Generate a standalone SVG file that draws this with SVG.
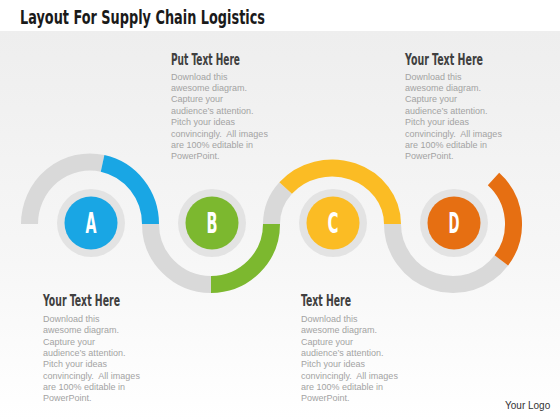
<svg xmlns="http://www.w3.org/2000/svg" width="560" height="420" viewBox="0 0 560 420">
  <defs>
    <linearGradient id="bg" x1="0" y1="0" x2="0" y2="1">
      <stop offset="0" stop-color="#eeeeee"/>
      <stop offset="0.6" stop-color="#f7f7f7"/>
      <stop offset="1" stop-color="#ffffff"/>
    </linearGradient>
    <style>
      .title{font-family:"Liberation Sans Narrow","DejaVu Sans Condensed","Liberation Sans",sans-serif;font-weight:bold;font-size:20px;fill:#1a1a1a}
      .head{font-family:"Liberation Sans Narrow","DejaVu Sans Condensed","Liberation Sans",sans-serif;font-weight:bold;font-size:15px;fill:#404040}
      .body{font-family:"Liberation Sans",Arial,sans-serif;font-size:9px;fill:#a3a3a3}
      .letter{font-family:"Liberation Sans Narrow","DejaVu Sans Condensed","Liberation Sans",sans-serif;font-weight:bold;font-size:28px;fill:#ffffff;text-anchor:middle}
      .ring{fill:#e3e3e3}
      .arc{fill:none;stroke-width:17;stroke-linecap:butt}
      .gray{stroke:#d9d9d9}
      .logo{font-family:"Liberation Sans",Arial,sans-serif;font-size:10px;fill:#333333}
    </style>
  </defs>
  <rect x="0" y="0" width="560" height="420" fill="#ffffff"/>
  <rect x="0" y="31" width="560" height="389" fill="url(#bg)"/>
  <text class="title" x="20" y="24" textLength="245" lengthAdjust="spacingAndGlyphs">Layout For Supply Chain Logistics</text>

  <g id="connectors">
    <path class="arc gray" d="M29.5,224 A60.5,62 0 0 1 102.58,163.35"/>
    <path class="arc" stroke="#19a6e4" d="M102.58,163.35 A60.5,62 0 0 1 150.5,224"/>
    <path class="arc gray" d="M150.5,224 A60.5,60.5 0 0 0 211,284.5"/>
    <path class="arc" stroke="#7cb82f" d="M211,284.5 A60.5,60.5 0 0 0 271.5,224"/>
    <path class="arc gray" d="M271.5,224 A60.5,56 0 0 1 285.65,188"/>
    <path class="arc" stroke="#fbbc24" d="M285.65,188 A60.5,56 0 0 1 392.5,224"/>
    <path class="arc gray" d="M392.5,224 A60.5,60.5 0 0 0 501.32,260.41"/>
    <path class="arc" stroke="#e66f12" d="M501.32,260.41 A60.5,60.5 0 0 0 493.48,179.04"/>
  </g>

  <g id="node-a">
    <circle class="ring" cx="91" cy="223" r="34"/>
    <circle cx="91" cy="223" r="26.5" fill="#19a6e4"/>
    <text class="letter" x="91" y="233" textLength="11" lengthAdjust="spacingAndGlyphs">A</text>
  </g>
  <g id="node-b">
    <circle class="ring" cx="212" cy="223" r="34"/>
    <circle cx="212" cy="223" r="26.5" fill="#7cb82f"/>
    <text class="letter" x="212" y="233" textLength="11" lengthAdjust="spacingAndGlyphs">B</text>
  </g>
  <g id="node-c">
    <circle class="ring" cx="333" cy="223" r="34"/>
    <circle cx="333" cy="223" r="26.5" fill="#fbbc24"/>
    <text class="letter" x="333" y="233" textLength="11" lengthAdjust="spacingAndGlyphs">C</text>
  </g>
  <g id="node-d">
    <circle class="ring" cx="454" cy="223" r="34"/>
    <circle cx="454" cy="223" r="26.5" fill="#e66f12"/>
    <text class="letter" x="454" y="233" textLength="11" lengthAdjust="spacingAndGlyphs">D</text>
  </g>

  <g id="text-b">
    <text class="head" x="171" y="65" textLength="69" lengthAdjust="spacingAndGlyphs">Put Text Here</text>
    <text class="body" x="171" y="79.5">Download this</text>
    <text class="body" x="171" y="90.9">awesome diagram.</text>
    <text class="body" x="171" y="102.3">Capture your</text>
    <text class="body" x="171" y="113.7">audience’s attention.</text>
    <text class="body" x="171" y="125.1">Pitch your ideas</text>
    <text class="body" x="171" y="136.5" xml:space="preserve">convincingly.  All images</text>
    <text class="body" x="171" y="147.9">are 100% editable in</text>
    <text class="body" x="171" y="159.3">PowerPoint.</text>
  </g>
  <g id="text-d">
    <text class="head" x="405" y="65" textLength="78" lengthAdjust="spacingAndGlyphs">Your Text Here</text>
    <text class="body" x="405" y="79.5">Download this</text>
    <text class="body" x="405" y="90.9">awesome diagram.</text>
    <text class="body" x="405" y="102.3">Capture your</text>
    <text class="body" x="405" y="113.7">audience’s attention.</text>
    <text class="body" x="405" y="125.1">Pitch your ideas</text>
    <text class="body" x="405" y="136.5" xml:space="preserve">convincingly.  All images</text>
    <text class="body" x="405" y="147.9">are 100% editable in</text>
    <text class="body" x="405" y="159.3">PowerPoint.</text>
  </g>
  <g id="text-a">
    <text class="head" x="43" y="306" textLength="77" lengthAdjust="spacingAndGlyphs">Your Text Here</text>
    <text class="body" x="43" y="322">Download this</text>
    <text class="body" x="43" y="333.3">awesome diagram.</text>
    <text class="body" x="43" y="344.6">Capture your</text>
    <text class="body" x="43" y="355.9">audience’s attention.</text>
    <text class="body" x="43" y="367.2">Pitch your ideas</text>
    <text class="body" x="43" y="378.5" xml:space="preserve">convincingly.  All images</text>
    <text class="body" x="43" y="389.8">are 100% editable in</text>
    <text class="body" x="43" y="401.1">PowerPoint.</text>
  </g>
  <g id="text-c">
    <text class="head" x="301" y="306" textLength="50" lengthAdjust="spacingAndGlyphs">Text Here</text>
    <text class="body" x="301" y="322">Download this</text>
    <text class="body" x="301" y="333.3">awesome diagram.</text>
    <text class="body" x="301" y="344.6">Capture your</text>
    <text class="body" x="301" y="355.9">audience’s attention.</text>
    <text class="body" x="301" y="367.2">Pitch your ideas</text>
    <text class="body" x="301" y="378.5" xml:space="preserve">convincingly.  All images</text>
    <text class="body" x="301" y="389.8">are 100% editable in</text>
    <text class="body" x="301" y="401.1">PowerPoint.</text>
  </g>
  <text class="logo" x="505" y="409">Your Logo</text>
</svg>
